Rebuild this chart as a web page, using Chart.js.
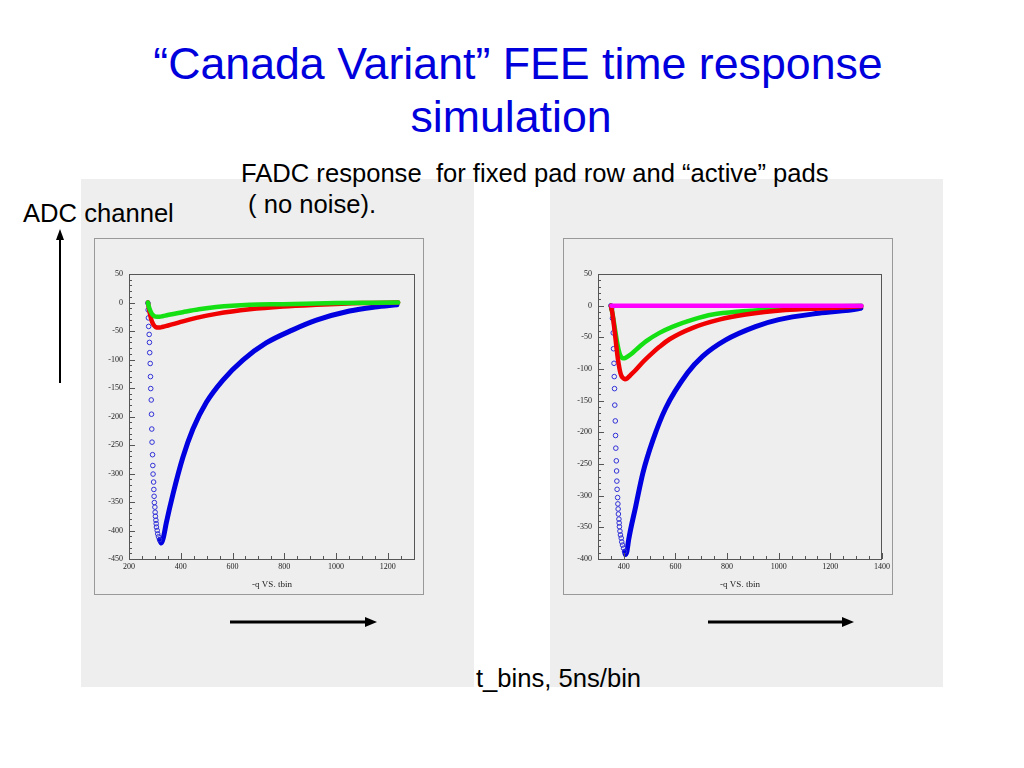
<!DOCTYPE html>
<html>
<head>
<meta charset="utf-8">
<script src="https://cdn.jsdelivr.net/npm/chart.js@4"></script>
<style>
  body { margin: 0; width: 1024px; height: 768px; background: #fff; position: relative; overflow: hidden;
         font-family: "Liberation Sans", Arial, sans-serif; }
  .txt { position: absolute; white-space: pre; color: #000; }
  .title { position: absolute; width: 1024px; text-align: center; font-size: 44.7px; line-height: 53px; color: #0000dd; }
  .panel { position: absolute; background: #eeeeee; }
  canvas.plot { position: absolute; outline: 1px solid #999; outline-offset: -1px; }
</style>
</head>
<body>
<div class="title" style="left:6px; top:37px;">“Canada Variant” FEE time response</div>
<div class="title" style="left:-1px; top:90px;">simulation</div>

<div class="panel" style="left:81px; top:179px; width:393px; height:508px;"></div>
<div class="panel" style="left:550px; top:179px; width:393px; height:508px;"></div>

<div class="txt" style="left:241px; top:158px; font-size:25.6px; line-height:31px;">FADC response  for fixed pad row and “active” pads
 ( no noise).</div>
<div class="txt" style="left:23px; top:198px; font-size:25.6px; line-height:31px;">ADC channel</div>
<div class="txt" style="left:476px; top:663px; font-size:25.6px; line-height:31px;">t_bins, 5ns/bin</div>

<canvas id="left" class="plot" width="330" height="357" style="left:94px; top:238px;"></canvas>
<canvas id="right" class="plot" width="330" height="357" style="left:563px; top:238px;"></canvas>

<svg style="position:absolute; left:0; top:0;" width="1024" height="768">
  <line x1="60" y1="238" x2="60" y2="383" stroke="#000" stroke-width="2"/>
  <polygon points="60,229 56,240 64,240" fill="#000"/>
  <line x1="230" y1="622" x2="367" y2="622" stroke="#000" stroke-width="3"/>
  <polygon points="377,622 365,617 365,627" fill="#000"/>
  <line x1="708" y1="622" x2="844" y2="622" stroke="#000" stroke-width="3"/>
  <polygon points="854,622 842,617 842,627" fill="#000"/>
</svg>

<script>
// left plot: -q vs tbin
const leftBlueRiseT = [273,274,275,276,278,279,280,282,283,284,286,287,288,289,291,292,293,295,296,297,298,300,301,302,304,305,306,309,311,314,318];
const leftBlueRiseQ = [-1,-13,-27,-42,-56,-70,-88,-107,-130,-151,-171,-196,-222,-245,-267,-286,-301,-315,-328,-340,-351,-359,-368,-375,-382,-388,-394,-400,-406,-411,-416];
const leftBlueTailT = [318,325,333,344,370,408,447,499,563,640,730,833,924,1052,1150,1235];
const leftBlueTailQ = [-416,-422,-412,-387,-336,-272,-222,-175,-136,-101,-71,-48,-31,-15,-8,-4];
const leftRedT = [273,276,280,285,290,296,303,312,320,328,345,370,408,460,537,666,795,924,1100,1240];
const leftRedQ = [0,-8,-18,-28,-35,-40,-43,-44,-44,-43,-41,-38,-33,-27,-20,-12,-7,-4,-1,0];
const leftGreenT = [273,276,280,285,290,298,308,318,330,350,408,470,537,666,795,1000,1240];
const leftGreenQ = [0,-6,-12,-17,-21,-24,-25,-25,-24,-22,-17,-12,-8,-4,-3,-1,0];

// right plot: -q vs tbin
const rightBlueRiseT = [350,353,356,359,360,362,363,364,365,367,368,369,371,372,373,374,376,377,378,379,381,382,383,385,387,390,392,395,399,403];
const rightBlueRiseQ = [0,-5,-20,-43,-68,-91,-112,-131,-157,-182,-205,-225,-245,-261,-277,-290,-303,-313,-321,-329,-337,-343,-349,-356,-362,-367,-373,-378,-383,-388];
const rightBlueTailT = [403,406,412,419,446,474,513,562,647,705,795,910,1000,1154,1308,1318];
const rightBlueTailQ = [-388,-393,-388,-369,-317,-264,-212,-162,-106,-80,-54,-33,-22,-12,-5,-4];
const rightRedT = [350,355,360,365,370,375,380,385,390,396,404,412,425,445,474,510,538,577,667,769,872,1026,1179,1320];
const rightRedQ = [0,-10,-25,-42,-60,-78,-92,-103,-110,-114,-116,-115,-110,-102,-89,-75,-65,-53,-35,-22,-14,-7,-4,-1];
const rightGreenT = [350,355,360,365,370,375,380,385,390,396,402,412,430,449,487,538,590,667,744,859,1051,1244,1320];
const rightGreenQ = [0,-10,-22,-35,-48,-60,-70,-77,-81,-83,-83,-81,-76,-69,-56,-43,-33,-22,-14,-9,-4,-1,0];
const rightMagentaT = [352,1320];
const rightMagentaQ = [0,0];

const axisTitle = "-q VS. tbin";

const BLUE = "#0000e0", RED = "#f00000", GREEN = "#14e014", MAGENTA = "#ff00ff";

function pts(t, q) {
    return t.map((v, i) => ({ x: v, y: q[i] }));
}

function circles(t, q, order) {
    return { data: pts(t, q), showLine: false, pointRadius: 2.3, pointBorderWidth: 1,
             pointBorderColor: "#3030d8", pointBackgroundColor: "rgba(0,0,0,0)", order: order };
}

function curve(t, q, color, width, order) {
    return { data: pts(t, q), showLine: true, borderColor: color, borderWidth: width,
             pointRadius: 0, cubicInterpolationMode: "monotone", order: order,
             borderCapStyle: "round", borderJoinStyle: "round" };
}

// box around plot area and ROOT-like inward ticks
const frame = {
    id: "frame",
    afterDraw(chart) {
        const c = chart.ctx, a = chart.chartArea;
        c.save();
        c.strokeStyle = "#555";
        c.lineWidth = 1;
        c.strokeRect(a.left + 0.5, a.top + 0.5, a.right - a.left - 1, a.bottom - a.top);
        const xs = chart.scales.x, ys = chart.scales.y;
        c.beginPath();
        for (let v = Math.ceil(xs.min / 50) * 50; v <= xs.max; v += 50) {
            const p = Math.round(xs.getPixelForValue(v)) + 0.5;
            const len = v % 200 === 0 ? 6 : 3;
            c.moveTo(p, a.bottom); c.lineTo(p, a.bottom - len);
        }
        for (let v = Math.ceil(ys.min / 10) * 10; v <= ys.max; v += 10) {
            const p = Math.round(ys.getPixelForValue(v)) + 0.5;
            const len = v % 50 === 0 ? 6 : 3;
            c.moveTo(a.left, p); c.lineTo(a.left + len, p);
        }
        c.stroke();
        c.restore();
    }
};

function makeChart(id, datasets, xmin, xmax, ymin, ymax) {
    return new Chart(document.getElementById(id), {
        type: "scatter",
        data: { datasets: datasets },
        options: {
            responsive: false,
            animation: false,
            devicePixelRatio: 1,
            layout: { padding: { top: 36, right: 9, left: 0, bottom: 0 } },
            plugins: { legend: { display: false }, tooltip: { enabled: false } },
            scales: {
                x: {
                    type: "linear", min: xmin, max: xmax,
                    grid: { display: false, drawTicks: false },
                    border: { display: false },
                    ticks: { stepSize: 200, includeBounds: false, padding: 3, color: "#222",
                             font: { family: "Liberation Serif", size: 8 }, maxRotation: 0,
                             callback: v => String(v) },
                    title: { display: true, text: axisTitle, color: "#222",
                             font: { family: "Liberation Serif", size: 9 }, padding: { top: 0, bottom: 5 } },
                    afterFit: s => { s.height = 36; }
                },
                y: {
                    min: ymin, max: ymax,
                    grid: { display: false, drawTicks: false },
                    border: { display: false },
                    ticks: { stepSize: 50, padding: 6, color: "#222",
                             font: { family: "Liberation Serif", size: 8 },
                             callback: v => String(v) },
                    afterFit: s => { s.width = 35; }
                }
            }
        },
        plugins: [frame]
    });
}

makeChart("left", [
    curve(leftGreenT, leftGreenQ, GREEN, 4.5, 0),
    curve(leftRedT, leftRedQ, RED, 4.5, 1),
    circles(leftBlueRiseT, leftBlueRiseQ, 2),
    curve(leftBlueTailT, leftBlueTailQ, BLUE, 5, 3)
], 200, 1305, -450, 50);

makeChart("right", [
    curve(rightMagentaT, rightMagentaQ, MAGENTA, 4.5, 0),
    curve(rightRedT, rightRedQ, RED, 4.5, 1),
    curve(rightGreenT, rightGreenQ, GREEN, 4.5, 2),
    circles(rightBlueRiseT, rightBlueRiseQ, 3),
    curve(rightBlueTailT, rightBlueTailQ, BLUE, 5, 4)
], 300, 1400, -400, 50);
</script>
</body>
</html>
